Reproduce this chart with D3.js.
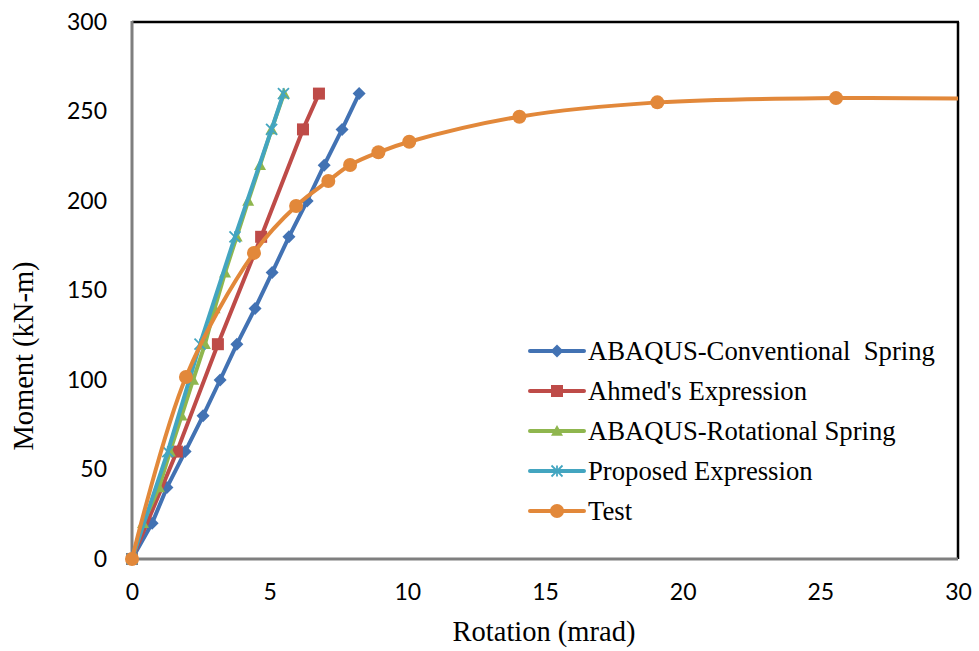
<!DOCTYPE html>
<html>
<head>
<meta charset="utf-8">
<script src="https://cdn.jsdelivr.net/npm/d3@7"></script>
<style>
  html, body { margin: 0; padding: 0; background: #fff; }
  svg { display: block; }
</style>
</head>
<body>
<svg id="chart" width="979" height="651"></svg>
<script>
// Moment–rotation curves (rotation in mrad, moment in kN-m)
const seriesNames = [
  "ABAQUS-Conventional  Spring",
  "Ahmed's Expression",
  "ABAQUS-Rotational Spring",
  "Proposed Expression",
  "Test"
];

const conventionalRot = [0, 0.73, 1.27, 1.93, 2.58, 3.2, 3.81, 4.47, 5.09, 5.7, 6.36, 6.98, 7.63, 8.25];
const conventionalMom = [0, 20, 40, 60, 80, 100, 120, 140, 160, 180, 200, 220, 240, 260];

const ahmedRot = [0, 1.63, 3.12, 4.69, 6.21, 6.79];
const ahmedMom = [0, 60, 120, 180, 240, 260];

const rotationalRot = [0, 0.4, 0.98, 1.38, 1.8, 2.22, 2.65, 3.0, 3.38, 3.8, 4.22, 4.65, 5.07, 5.52];
const rotationalMom = [0, 20, 40, 60, 80, 100, 120, 140, 160, 180, 200, 220, 240, 260];

const proposedRot = [0, 1.3, 2.47, 3.74, 5.07, 5.5];
const proposedMom = [0, 60, 120, 180, 240, 260];

const testRot = [0, 1.96, 4.43, 5.96, 7.13, 7.92, 8.95, 10.07, 14.07, 19.08, 25.57, 31.5];
const testMom = [0, 101.7, 171, 197.2, 211.2, 220.1, 227.2, 233.1, 247.1, 255.1, 257.5, 257.0];

const xTicks = [0, 5, 10, 15, 20, 25, 30];
const yTicks = [0, 50, 100, 150, 200, 250, 300];

const colors = ["#4272B3", "#BE4B48", "#8FB64E", "#43A5C0", "#E2883A"];
const markerTypes = ["diamond", "square", "triangle", "asterisk", "circle"];

const zip = (xs, ys) => xs.map((x, i) => ({ x, y: ys[i] }));
const series = [
  zip(conventionalRot, conventionalMom),
  zip(ahmedRot, ahmedMom),
  zip(rotationalRot, rotationalMom),
  zip(proposedRot, proposedMom),
  zip(testRot, testMom)
];

const svg = d3.select("#chart");
const plot = { left: 132, right: 958, top: 22, bottom: 559 };

const x = d3.scaleLinear().domain([0, 30]).range([plot.left, plot.right]);
const y = d3.scaleLinear().domain([0, 300]).range([plot.bottom, plot.top]);

svg.append("defs").append("clipPath").attr("id", "plotClip")
  .append("rect")
  .attr("x", plot.left - 12).attr("y", plot.top - 12)
  .attr("width", plot.right - plot.left + 12).attr("height", plot.bottom - plot.top + 24);

// Plot frame: grey value/category axes, black top and right borders
svg.append("line").attr("x1", plot.left).attr("x2", plot.right + 1)
  .attr("y1", plot.top).attr("y2", plot.top)
  .attr("stroke", "#000").attr("stroke-width", 2.5);
svg.append("line").attr("x1", plot.right).attr("x2", plot.right)
  .attr("y1", plot.top).attr("y2", plot.bottom)
  .attr("stroke", "#000").attr("stroke-width", 2.5);

// Axes (labels only, no tick marks)
const xAxis = d3.axisBottom(x).tickValues(xTicks).tickSize(0).tickPadding(25).tickFormat(d3.format("d"));
const yAxis = d3.axisLeft(y).tickValues(yTicks).tickSize(0).tickPadding(25).tickFormat(d3.format("d"));

const gx = svg.append("g").attr("transform", `translate(0,${plot.bottom})`).call(xAxis);
const gy = svg.append("g").attr("transform", `translate(${plot.left},0)`).call(yAxis);
[gx, gy].forEach(g => {
  g.select(".domain").remove();
  g.selectAll("text")
    .attr("font-family", "Lato, 'Open Sans', sans-serif")
    .attr("font-size", 23)
    .attr("fill", "#000");
});

svg.append("line").attr("x1", plot.left).attr("x2", plot.left)
  .attr("y1", plot.top - 1).attr("y2", plot.bottom)
  .attr("stroke", "#7f7f7f").attr("stroke-width", 3);
svg.append("line").attr("x1", plot.left).attr("x2", plot.right)
  .attr("y1", plot.bottom).attr("y2", plot.bottom)
  .attr("stroke", "#7f7f7f").attr("stroke-width", 3);

// Axis titles
svg.append("text")
  .attr("x", 544).attr("y", 641)
  .attr("text-anchor", "middle")
  .attr("font-family", "'Liberation Serif', 'Times New Roman', serif")
  .attr("font-size", 28.5).attr("fill", "#000")
  .text("Rotation (mrad)");
svg.append("text")
  .attr("transform", `translate(33,356) rotate(-90)`)
  .attr("text-anchor", "middle")
  .attr("font-family", "'Liberation Serif', 'Times New Roman', serif")
  .attr("font-size", 28.5).attr("fill", "#000")
  .text("Moment (kN-m)");

// Marker shapes
function drawMarker(g, type, color, cx, cy) {
  if (type === "diamond") {
    const r = 6.5;
    g.append("path").attr("d", `M${cx},${cy - r}L${cx + r},${cy}L${cx},${cy + r}L${cx - r},${cy}Z`).attr("fill", color);
  } else if (type === "square") {
    const h = 6;
    g.append("rect").attr("x", cx - h).attr("y", cy - h).attr("width", 2 * h).attr("height", 2 * h).attr("fill", color);
  } else if (type === "triangle") {
    const h = 6;
    g.append("path").attr("d", `M${cx},${cy - h}L${cx + h},${cy + h * 0.8}L${cx - h},${cy + h * 0.8}Z`).attr("fill", color);
  } else if (type === "asterisk") {
    const r = 5.5;
    [[-r, -r, r, r], [-r, r, r, -r], [0, -r, 0, r]].forEach(([a, b, c, d]) => {
      g.append("line").attr("x1", cx + a).attr("y1", cy + b).attr("x2", cx + c).attr("y2", cy + d)
        .attr("stroke", color).attr("stroke-width", 1.8);
    });
  } else if (type === "circle") {
    g.append("circle").attr("cx", cx).attr("cy", cy).attr("r", 7).attr("fill", color);
  }
}

const plotG = svg.append("g").attr("clip-path", "url(#plotClip)");

series.forEach((data, i) => {
  const line = d3.line()
    .x(d => x(d.x)).y(d => y(d.y))
    .curve(i === 4 ? d3.curveCatmullRom.alpha(0.5) : d3.curveLinear);
  const g = plotG.append("g");
  g.append("path").datum(data)
    .attr("d", line)
    .attr("fill", "none")
    .attr("stroke", colors[i])
    .attr("stroke-width", 4)
    .attr("stroke-linejoin", "round");
  data.forEach(d => {
    if (d.x <= 30) drawMarker(g, markerTypes[i], colors[i], x(d.x), y(d.y));
  });
});

// Legend
const legend = svg.append("g");
const legendX0 = 530, legendX1 = 584, legendY0 = 351, legendStep = 40;
seriesNames.forEach((name, i) => {
  const ly = legendY0 + i * legendStep;
  legend.append("line").attr("x1", legendX0).attr("x2", legendX1)
    .attr("y1", ly).attr("y2", ly)
    .attr("stroke", colors[i]).attr("stroke-width", 4).attr("stroke-linecap", "round");
  drawMarker(legend, markerTypes[i], colors[i], (legendX0 + legendX1) / 2, ly);
  legend.append("text")
    .attr("x", legendX1 + 4).attr("y", ly + 9)
    .attr("font-family", "'Liberation Serif', 'Times New Roman', serif")
    .attr("font-size", 26.7).attr("fill", "#000")
    .style("white-space", "pre")
    .text(name);
});
</script>
</body>
</html>
